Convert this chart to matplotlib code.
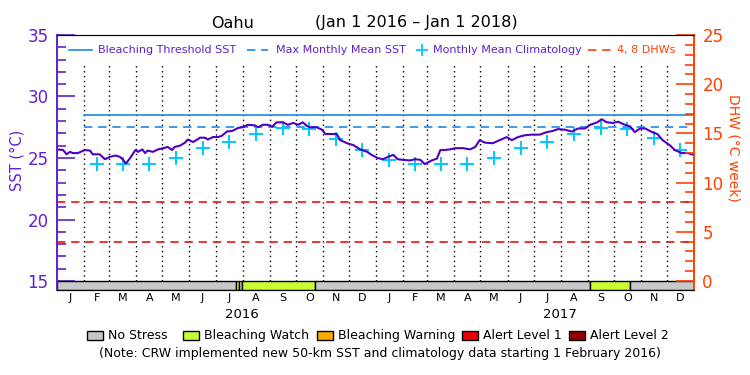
# Oahu bleaching outlook chart, SST + DHW, Jan 2016 - Jan 2018
import numpy as np
import matplotlib
matplotlib.use('Agg')
import matplotlib.pyplot as plt
from matplotlib.patches import Rectangle
from matplotlib.ticker import MultipleLocator

plt.rcParams['font.family'] = ['DejaVu Sans']

# daily SST (days since 1 Jan 2016)
sst_day = [0, 7, 11, 15, 18, 24, 32, 38, 41, 49, 55, 61, 67, 72, 76, 79, 84, 90, 93, 98,
           101, 104, 110, 116, 122, 127, 132, 135, 141, 147, 150, 156, 161, 164, 170, 173,
           179, 185, 189, 195, 201, 204, 208, 213, 219, 227, 231, 236, 242, 247, 252, 259,
           265, 271, 277, 282, 287, 290, 298, 304, 308, 313, 321, 325, 333, 340, 348, 356,
           361, 368, 374, 380, 386, 391, 397, 405, 411, 417, 422, 430, 436, 440, 445, 451,
           457, 466, 474, 480, 485, 491, 500, 508, 516, 522, 529, 537, 545, 554, 562, 569,
           575, 583, 591, 598, 606, 612, 620, 625, 631, 638, 644, 650, 658, 663, 669, 675,
           683, 689, 695, 703, 709, 717, 724, 731]
sst_val = [25.7, 25.65, 25.3, 25.5, 25.4, 25.4, 25.65, 25.6, 25.3, 25.3, 24.9, 25.1, 25.2,
           25.1, 24.85, 24.55, 25.0, 25.65, 25.5, 25.7, 25.4, 25.6, 25.5, 25.7, 25.8, 25.9,
           25.65, 25.9, 26.0, 26.25, 26.5, 26.3, 26.5, 26.65, 26.65, 26.5, 26.7, 26.7, 26.8,
           27.15, 27.2, 27.3, 27.45, 27.5, 27.7, 27.65, 27.5, 27.7, 27.7, 27.55, 27.9, 27.9,
           27.7, 27.85, 27.7, 27.9, 27.6, 27.5, 27.5, 27.3, 26.95, 26.95, 26.95, 26.45, 26.2,
           26.05, 25.7, 25.5, 25.25, 25.0, 24.9, 25.1, 25.25, 24.9, 24.85, 24.8, 24.9, 24.85,
           24.5, 24.8, 24.95, 25.65, 25.65, 25.7, 25.8, 25.8, 25.7, 25.9, 26.45, 26.25, 26.2,
           26.45, 26.7, 26.45, 26.7, 26.85, 26.9, 26.9, 27.1, 27.2, 27.35, 27.3, 27.15, 27.4,
           27.4, 27.7, 27.9, 28.15, 27.9, 27.85, 27.95, 27.75, 27.55, 27.1, 27.4, 27.4, 27.1,
           26.95, 26.45, 26.05, 25.65, 25.4, 25.4, 25.25]

# monthly mean climatology, Feb 2016 .. Dec 2017
clim_month = ['2016-02', '2016-03', '2016-04', '2016-05', '2016-06', '2016-07', '2016-08',
              '2016-09', '2016-10', '2016-11', '2016-12', '2017-01', '2017-02', '2017-03',
              '2017-04', '2017-05', '2017-06', '2017-07', '2017-08', '2017-09', '2017-10',
              '2017-11', '2017-12']
clim_val = [24.55, 24.5, 24.5, 25.0, 25.8, 26.3, 26.95, 27.45, 27.35, 26.55, 25.65, 24.85,
            24.5, 24.5, 24.5, 25.0, 25.8, 26.3, 26.95, 27.45, 27.35, 26.6, 25.65]

threshold = 28.5
mmm = 27.5
dhw_levels = [4, 8]

# stress level bar: (start day, end day, level)
status_start = [0, 205, 209, 212, 296, 612, 658]
status_end = [205, 209, 212, 296, 612, 658, 731]
status_level = [0, 1, 0, 1, 0, 1, 0]

level_names = ['No Stress', 'Bleaching Watch', 'Bleaching Warning', 'Alert Level 1', 'Alert Level 2']
level_colors = ['#c8c8c8', '#c8ff32', '#ffaa00', '#f00000', '#960000']

month_letters = ['J', 'F', 'M', 'A', 'M', 'J', 'J', 'A', 'S', 'O', 'N', 'D']
years = ['2016', '2017']

purple = '#6020d0'
orange = '#ff4000'
blue = '#1e88e8'

t0 = np.datetime64('2016-01-01')
month_starts = np.arange(np.datetime64('2016-01'), np.datetime64('2018-02'), dtype='datetime64[M]')
month_days = (month_starts.astype('datetime64[D]') - t0).astype(int)
mid_days = (month_days[:-1] + month_days[1:]) / 2.0
clim_day = [mid_days[(np.datetime64(m) - np.datetime64('2016-01')).astype(int)] for m in clim_month]

ymin = 14.27
fig = plt.figure(figsize=(7.5, 3.75), dpi=100)
ax = fig.add_axes([0.076, 0.2267, 0.8493, 0.68])
ax.set_xlim(0, 731)
ax.set_ylim(ymin, 35)

# month grid
for d in month_days[1:-1]:
    ax.plot([d, d], [15, 32.55], color='black', lw=1, ls=(0, (1, 2.5)), zorder=1)

# thresholds
ax.plot([31, 731], [threshold, threshold], color=blue, lw=1.2, zorder=2)
ax.plot([31, 731], [mmm, mmm], color=blue, lw=1.2, dashes=(5, 3.5), zorder=2)

ax.plot(clim_day, clim_val, ls='none', marker='+', ms=10, mew=1.4, color='#00c8ff', zorder=3)
ax.plot(sst_day, sst_val, color='#5000c0', lw=1.5, zorder=4)

# stress bar
for s, e, lv in zip(status_start, status_end, status_level):
    ax.add_patch(Rectangle((s, ymin), e - s, 15 - ymin, facecolor=level_colors[lv],
                           edgecolor='black', lw=1, zorder=5))

ax2 = ax.twinx()
ax2.set_ylim((ymin - 15) * 1.25, 25)
for lv in dhw_levels:
    ax2.axhline(lv, color='#ee1111', lw=1.2, dashes=(5, 3.5))

# axes styling
ax.spines['left'].set_color(purple)
ax2.spines['left'].set_color(purple)
ax2.spines['right'].set_color(orange)
ax.spines['right'].set_color(orange)
for a in (ax, ax2):
    a.spines['left'].set_linewidth(1.2)
    a.spines['right'].set_linewidth(1.2)
ax.set_yticks([15, 20, 25, 30, 35])
ax.yaxis.set_minor_locator(MultipleLocator(1))
ax.tick_params(axis='y', which='major', direction='in', length=13, width=1.2, color=purple,
               labelcolor=purple, labelsize=12, pad=6)
ax.tick_params(axis='y', which='minor', direction='in', length=6.5, width=1.2, color=purple)
ax2.set_yticks([0, 5, 10, 15, 20, 25])
ax2.yaxis.set_minor_locator(MultipleLocator(1))
ax2.tick_params(axis='y', which='major', direction='in', length=13, width=1.2, color=orange,
                labelcolor=orange, labelsize=12, pad=6)
ax2.tick_params(axis='y', which='minor', direction='in', length=6.5, width=1.2, color=orange)

ax.set_xticks(mid_days)
ax.set_xticklabels(month_letters * 2)
ax.tick_params(axis='x', which='both', length=0, labelsize=8, pad=2)
for i, y in enumerate(years):
    ax.text(mid_days[6 + 12 * i] + 15, -0.097, y, transform=ax.get_xaxis_transform(),
            ha='center', va='center', fontsize=9.5)

# title
fig.text(233 / 750, 1 - 23 / 375, 'Oahu', ha='center', va='center', fontsize=11.5)
fig.text(416 / 750, 1 - 23 / 375, '(Jan 1 2016 \u2013 Jan 1 2018)', ha='center', va='center', fontsize=11.5)

fig.text(17 / 750, 1 - 160 / 375, 'SST (\u00b0C)', rotation=90, ha='center', va='center',
         color=purple, fontsize=10.5)
fig.text(733 / 750, 1 - 148 / 375, 'DHW (\u00b0C week)', rotation=270, ha='center', va='center',
         color=orange, fontsize=10)

# legend inside the plot
ly = 0.941
tr = ax.transAxes
ax.plot([0.019, 0.055], [ly, ly], color=blue, lw=1.2, transform=tr)
ax.text(0.0644, ly, 'Bleaching Threshold SST', color=purple, fontsize=8, va='center', transform=tr)
ax.plot([0.298, 0.331], [ly, ly], color=blue, lw=1.2, dashes=(5, 3.5), transform=tr)
ax.text(0.344, ly, 'Max Monthly Mean SST', color=purple, fontsize=8, va='center', transform=tr)
ax.plot([0.573], [ly], marker='+', ms=8, mew=1.3, color='#00c8ff', transform=tr)
ax.text(0.590, ly, 'Monthly Mean Climatology', color=purple, fontsize=8, va='center', transform=tr)
ax.plot([0.834, 0.871], [ly, ly], color=orange, lw=1.2, dashes=(5, 3.5), transform=tr)
ax.text(0.879, ly, '4, 8 DHWs', color=orange, fontsize=8, va='center', transform=tr)

# stress legend
box_x = [87, 183, 317, 462, 569]
for bx, name, col in zip(box_x, level_names, level_colors):
    fig.patches.append(Rectangle((bx / 750, 1 - 340 / 375), 16 / 750, 9 / 375, facecolor=col,
                                 edgecolor='black', lw=1, transform=fig.transFigure))
    fig.text((bx + 21) / 750, 1 - 335.5 / 375, name, va='center', fontsize=9)

fig.text(380 / 750, 1 - 354 / 375,
         '(Note: CRW implemented new 50-km SST and climatology data starting 1 February 2016)',
         ha='center', va='center', fontsize=9)

fig.savefig('out.png', dpi=100)
